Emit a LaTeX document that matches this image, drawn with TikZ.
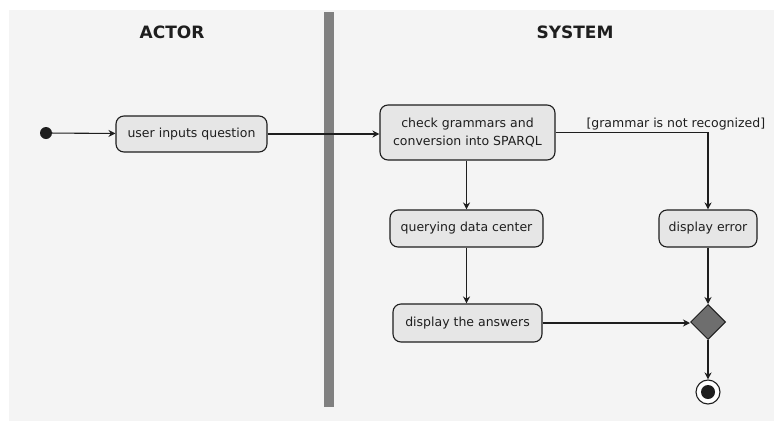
\documentclass[tikz,border=0pt]{standalone}
\usepackage{fontspec}
\setmainfont{DejaVu Sans}
\usetikzlibrary{arrows.meta,shapes.geometric}
\definecolor{bgray}{HTML}{F4F4F4}
\definecolor{nodefill}{HTML}{E6E6E6}
\definecolor{barcol}{HTML}{808080}
\definecolor{diafill}{HTML}{6E6E6E}
\definecolor{ink}{HTML}{1E1E1E}
\tikzset{
  act/.style={rectangle, rounded corners=8pt, draw=ink, fill=nodefill, line width=1.1pt,
    inner sep=0pt, align=center, text=ink, font=\fontsize{12.5}{18}\selectfont},
  flow/.style={draw=ink, line width=1.1pt, -{Stealth[length=7pt,width=7pt]}},
  title/.style={font=\bfseries\fontsize{17}{20}\selectfont, text=ink},
}
\begin{document}
\begin{tikzpicture}[x=1pt,y=-1pt]
\useasboundingbox (0,0) rectangle (774,421);
\fill[white] (0,0) rectangle (774,421);
\fill[bgray] (9,10) rectangle (774,421);
\fill[barcol] (324,12) rectangle (334,407);
\node[title] (actor) at (172,32) {ACTOR};
\node[title] (system) at (575,32) {SYSTEM};
\node[circle, fill=ink, inner sep=0pt, minimum size=12pt] (start) at (46,133) {};
\node[act, minimum width=151pt, minimum height=36pt] (user) at (191.5,134) {user inputs question};
\node[act, minimum width=175pt, minimum height=55pt] (check) at (467.5,132.5) {check grammars and\\conversion into SPARQL};
\node[act, minimum width=153pt, minimum height=37pt] (query) at (466.5,228.5) {querying data center};
\node[act, minimum width=98pt, minimum height=37pt] (err) at (708,228.5) {display error};
\node[act, minimum width=149pt, minimum height=38pt] (ans) at (467.5,323) {display the answers};
\node[diamond, draw=ink, fill=diafill, line width=1pt, minimum width=35pt, minimum height=35pt, inner sep=0pt] (dec) at (708,322) {};
\node[circle, draw=ink, fill=white, line width=1.1pt, minimum size=24pt, inner sep=0pt] (end) at (708,392) {};
\node[circle, fill=ink, minimum size=14pt, inner sep=0pt] (endin) at (end.center) {};
\node[text=ink, font=\fontsize{12.5}{14}\selectfont, anchor=west] (guard) at (583,124) {[grammar is not recognized]};
\draw[flow] (start) -- (user);
\draw[flow] (user.east) -- (user.east -| check.west);
\draw[flow] (check.east) -| (err.north);
\draw[flow] (check.south -| query.north) -- (query.north);
\draw[flow] (query.south) -- (query.south |- ans.north);
\draw[flow] (ans.east) -- (ans.east -| dec.west);
\draw[flow] (err.south) -- (dec.north);
\draw[flow] (dec.south) -- (end.north);
\end{tikzpicture}
\end{document}
